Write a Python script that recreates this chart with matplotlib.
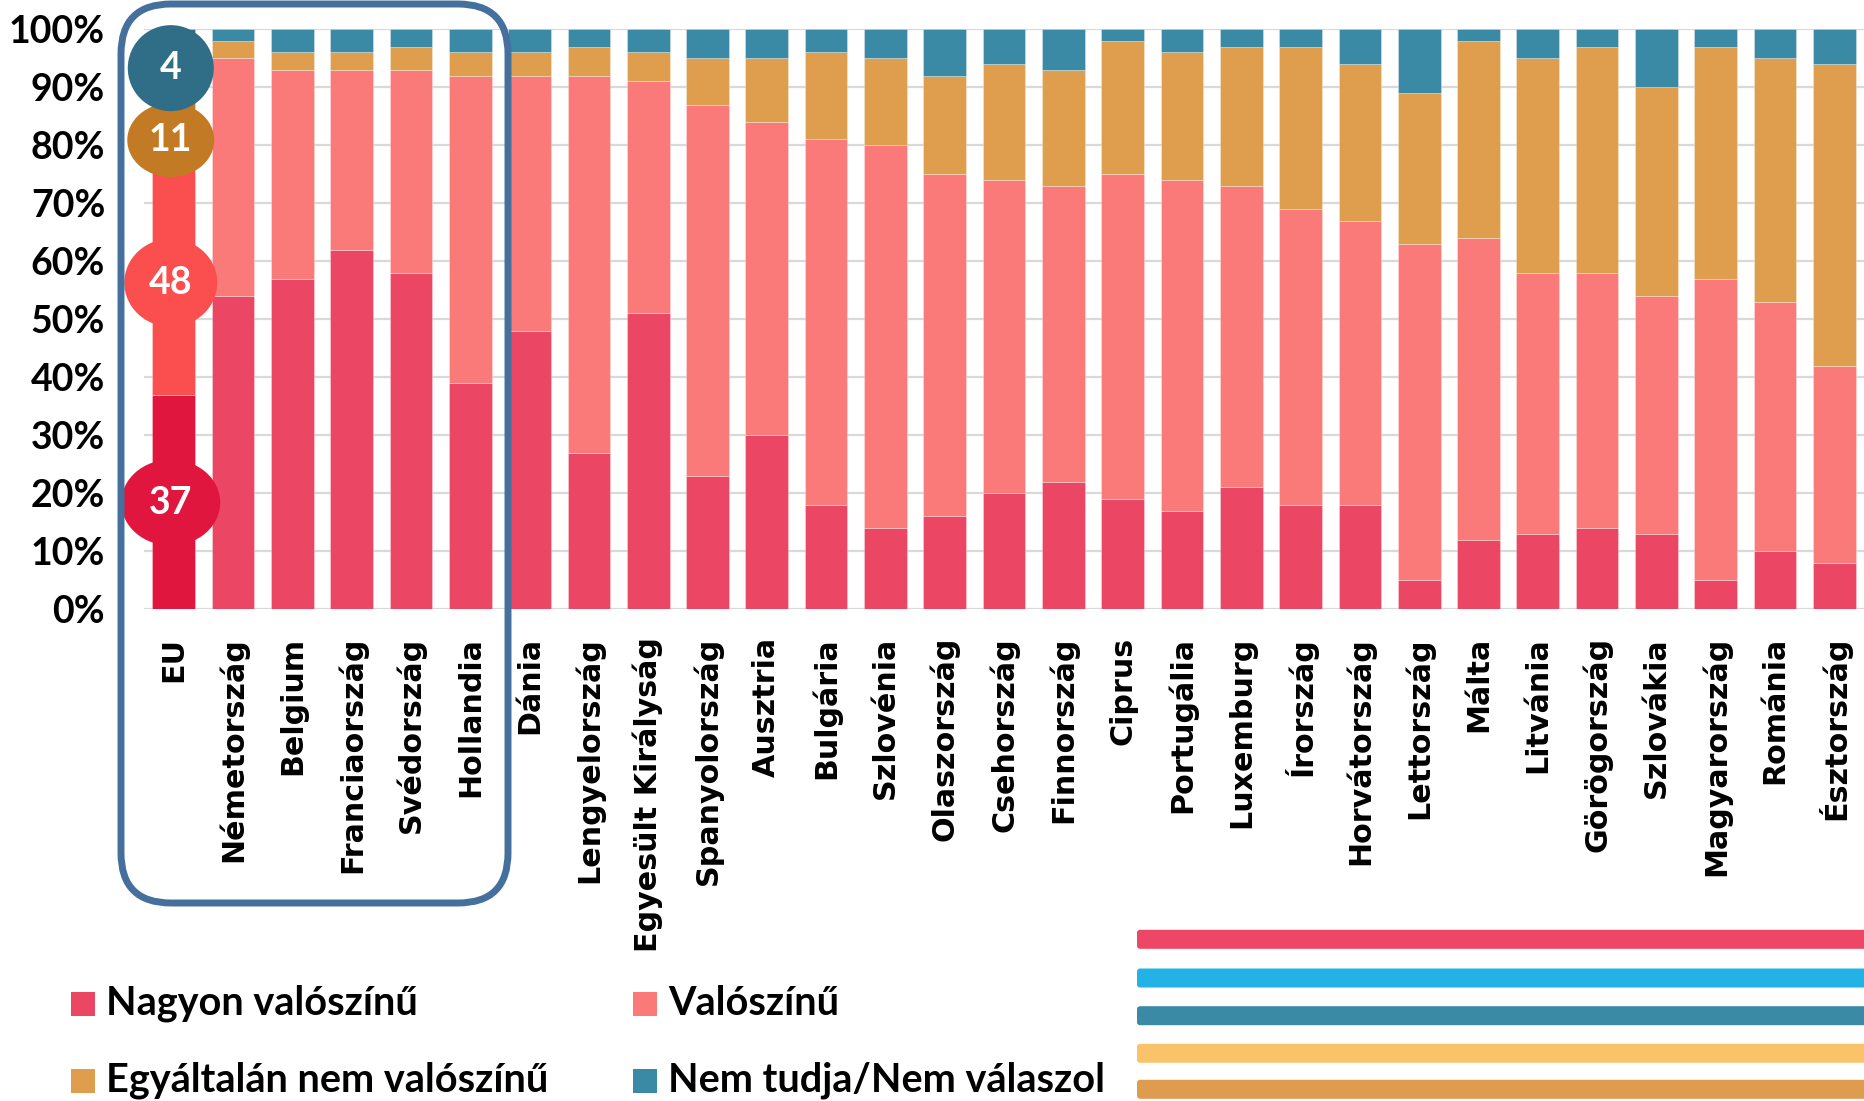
import numpy as np
import matplotlib

matplotlib.use("Agg")
import matplotlib.pyplot as plt
from matplotlib.patches import Ellipse, FancyBboxPatch, Rectangle

countries = [
    "EU", "Németország", "Belgium", "Franciaország", "Svédország", "Hollandia",
    "Dánia", "Lengyelország", "Egyesült Királyság", "Spanyolország", "Ausztria",
    "Bulgária", "Szlovénia", "Olaszország", "Csehország", "Finnország", "Ciprus",
    "Portugália", "Luxemburg", "Írország", "Horvátország", "Lettország", "Málta",
    "Litvánia", "Görögország", "Szlovákia", "Magyarország", "Románia", "Észtország",
]
nagyon = [37, 54, 57, 62, 58, 39, 48, 27, 51, 23, 30, 18, 14, 16, 20, 22, 19,
          17, 21, 18, 18, 5, 12, 13, 14, 13, 5, 10, 8]
valoszinu = [48, 41, 36, 31, 35, 53, 44, 65, 40, 64, 54, 63, 66, 59, 54, 51, 56,
             57, 52, 51, 49, 58, 52, 45, 44, 41, 52, 43, 34]
egyaltalan = [11, 3, 3, 3, 4, 4, 4, 5, 5, 8, 11, 15, 15, 17, 20, 20, 23,
              22, 24, 28, 27, 26, 34, 37, 39, 36, 40, 42, 52]
nem_tudja = [4, 2, 4, 4, 3, 4, 4, 3, 4, 5, 5, 4, 5, 8, 6, 7, 2,
             4, 3, 3, 6, 11, 2, 5, 3, 10, 3, 5, 6]

series_labels = ["Nagyon valószínű", "Valószínű",
                 "Egyáltalán nem valószínű", "Nem tudja/Nem válaszol"]
series_colors = ["#EC4665", "#FA7A79", "#DE9E4E", "#3A89A5"]
eu_colors = ["#E1163E", "#FB4E4E", "#C37A25", "#2F6E86"]

deco_colors = ["#EE4665", "#23B2E6", "#3A89A5", "#FAC36A", "#DD9C4E"]

sans = ["Lato", "DejaVu Sans"]

fig = plt.figure(figsize=(18.64, 11.01), dpi=100)
ax = fig.add_axes([0.0773, 0.4466, 0.9227, 0.5268])

x = np.arange(len(countries))
data = [nagyon, valoszinu, egyaltalan, nem_tudja]
bottom = np.zeros(len(countries))
for k, vals in enumerate(data):
    vals = np.array(vals, dtype=float)
    cols = [eu_colors[k]] + [series_colors[k]] * (len(countries) - 1)
    ax.bar(x, vals, 0.72, bottom=bottom, color=cols,
           edgecolor=(1, 1, 1, 0.35), linewidth=0.6, zorder=2)
    bottom += vals

# EU value bubbles
bubble_y = [18.4, 56.3, 80.9, 93.3]
bubble_px = [(99, 86), (93, 88), (87, 74), (86, 86)]
px_x = 1720 / len(countries)
px_y = 580 / 100
for k, vals in enumerate(data):
    w, h = bubble_px[k]
    ax.add_patch(Ellipse((-0.05, bubble_y[k]), w / px_x, h / px_y,
                         facecolor=eu_colors[k], edgecolor="none",
                         zorder=4, clip_on=False))
    ax.text(-0.05, bubble_y[k], f"{vals[0]}", ha="center", va="center",
            color="white", fontsize=27, fontweight="bold", family=sans, zorder=5)

ax.set_xlim(-0.5, len(countries) - 0.5)
ax.set_ylim(0, 100)
ax.set_yticks(range(0, 101, 10))
ax.set_yticklabels([f"{v}%" for v in range(0, 101, 10)],
                   fontsize=27, fontweight="bold", family=sans)
ax.set_xticks(x)
ax.set_xticklabels(countries, rotation=90, fontsize=21.7, fontweight="bold",
                   family="DejaVu Sans")
ax.tick_params(axis="y", length=0, pad=28)
ax.tick_params(axis="x", length=0, pad=20)
ax.yaxis.grid(True, color="#D9D9D9", linewidth=1.6, zorder=0)
ax.set_axisbelow(True)
for s in ax.spines.values():
    s.set_visible(False)

# rounded frame around the first group
inch = fig.dpi_scale_trans
fig.patches.append(FancyBboxPatch(
    (1.21, 1.98), 5.08 - 1.21, 10.97 - 1.98,
    boxstyle="round,pad=0,rounding_size=0.5", transform=inch,
    facecolor="none", edgecolor="#45709D", linewidth=5, zorder=10))

# legend
leg_pos = [(0.71, 0.853), (6.33, 0.853), (0.71, 0.083), (6.33, 0.083)]
for k, lab in enumerate(series_labels):
    lx, ly = leg_pos[k]
    fig.patches.append(Rectangle((lx, ly), 0.24, 0.24, transform=inch,
                                 facecolor=series_colors[k], edgecolor="none"))
    fig.text(lx + 0.35, ly + 0.12, lab, transform=inch, va="center", ha="left",
             fontsize=28.5, fontweight="bold", family=sans)

# decorative stripes at the bottom right
stripe_y = [1.617, 1.23, 0.853, 0.477, 0.117]
for c, yc in zip(deco_colors, stripe_y):
    fig.patches.append(FancyBboxPatch(
        (11.37, yc - 0.095), 8.0, 0.19,
        boxstyle="round,pad=0,rounding_size=0.03", transform=inch,
        facecolor=c, edgecolor="none"))

fig.savefig("out.png", dpi=100)
plt.close(fig)
